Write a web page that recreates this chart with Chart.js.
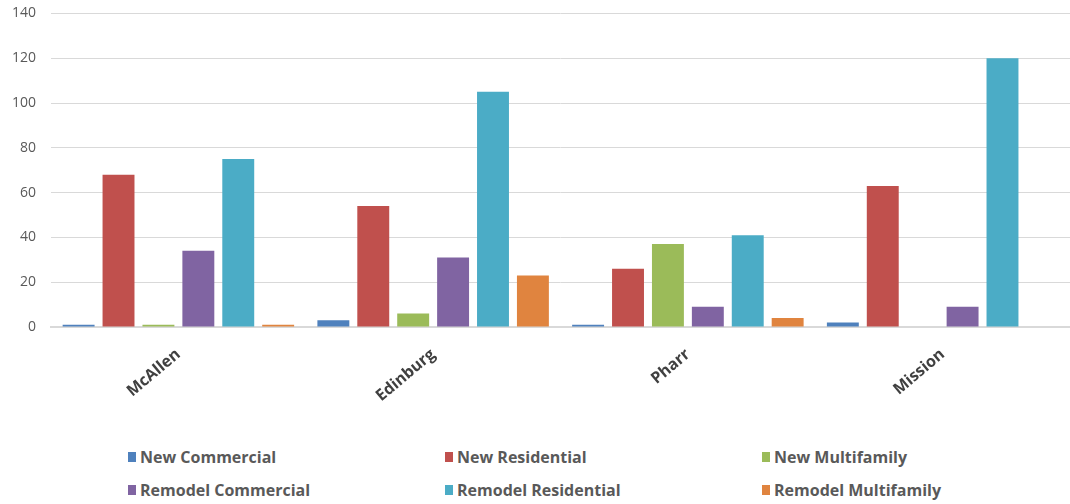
<!DOCTYPE html>
<html>
<head>
<meta charset="utf-8">
<script src="https://cdn.jsdelivr.net/npm/chart.js@4/dist/chart.umd.min.js"></script>
<style>
  html, body { margin: 0; padding: 0; background: #fff; overflow: hidden; }
  #wrap { position: relative; width: 1070px; height: 504px; overflow: hidden; }
  #chart { position: absolute; left: -13px; top: -10px; width: 1083px; height: 430px; }
  #legend {
    position: absolute; left: 128px; top: 446px; width: 900px;
    display: grid; grid-template-columns: 317px 317px 260px; row-gap: 11px;
    font-family: "Open Sans", sans-serif;
    font-weight: bold; font-size: 16px; color: #595959;
  }
  .item { display: flex; align-items: center; height: 22px; }
  .box { width: 8px; height: 10px; margin-right: 4px; }
</style>
</head>
<body>
<div id="wrap">
  <canvas id="chart" width="1083" height="430"></canvas>
  <div id="legend"></div>
</div>
<script>
// permisos por ciudad
const cities = ['McAllen', 'Edinburg', 'Pharr', 'Mission'];
const yTicks = [0, 20, 40, 60, 80, 100, 120, 140];

const newCommercial = [1, 3, 1, 2];
const newResidential = [68, 54, 26, 63];
const newMultifamily = [1, 6, 37, 0];
const remodelCommercial = [34, 31, 9, 9];
const remodelResidential = [75, 105, 41, 120];
const remodelMultifamily = [1, 23, 4, 0];

const series = [
  { label: 'New Commercial', data: newCommercial, color: '#4F81BD' },
  { label: 'New Residential', data: newResidential, color: '#C0504D' },
  { label: 'New Multifamily', data: newMultifamily, color: '#9BBB59' },
  { label: 'Remodel Commercial', data: remodelCommercial, color: '#8064A2' },
  { label: 'Remodel Residential', data: remodelResidential, color: '#4BACC6' },
  { label: 'Remodel Multifamily', data: remodelMultifamily, color: '#E0843F' }
];

const ctx = document.getElementById('chart').getContext('2d');
new Chart(ctx, {
  type: 'bar',
  data: {
    labels: cities,
    datasets: series.map(s => ({
      label: s.label,
      data: s.data,
      backgroundColor: s.color,
      categoryPercentage: 0.94,
      barPercentage: 0.8
    }))
  },
  options: {
    responsive: false,
    animation: false,
    layout: { padding: { left: 10, top: 0, right: 0, bottom: 0 } },
    plugins: { legend: { display: false }, tooltip: { enabled: false } },
    scales: {
      x: {
        grid: { display: false },
        border: { color: '#d9d9d9', width: 2 },
        afterFit: scale => { scale.height = 93; },
        ticks: {
          color: '#404040',
          minRotation: 40, maxRotation: 40,
          padding: 10,
          font: { family: '"Open Sans", sans-serif', weight: 'bold', size: 16 }
        }
      },
      y: {
        min: 0, max: 140,
        afterBuildTicks: axis => { axis.ticks = yTicks.map(v => ({ value: v })); },
        grid: { color: '#d9d9d9', drawTicks: false },
        border: { display: false },
        ticks: {
          color: '#595959',
          padding: 15,
          font: { family: '"Open Sans", sans-serif', size: 14 }
        }
      }
    }
  }
});

// leyenda en rejilla de 3 columnas
const legend = document.getElementById('legend');
series.forEach(s => {
  const item = document.createElement('div');
  item.className = 'item';
  item.innerHTML = '<span class="box" style="background:' + s.color + '"></span>' + s.label;
  legend.appendChild(item);
});
</script>
</body>
</html>
